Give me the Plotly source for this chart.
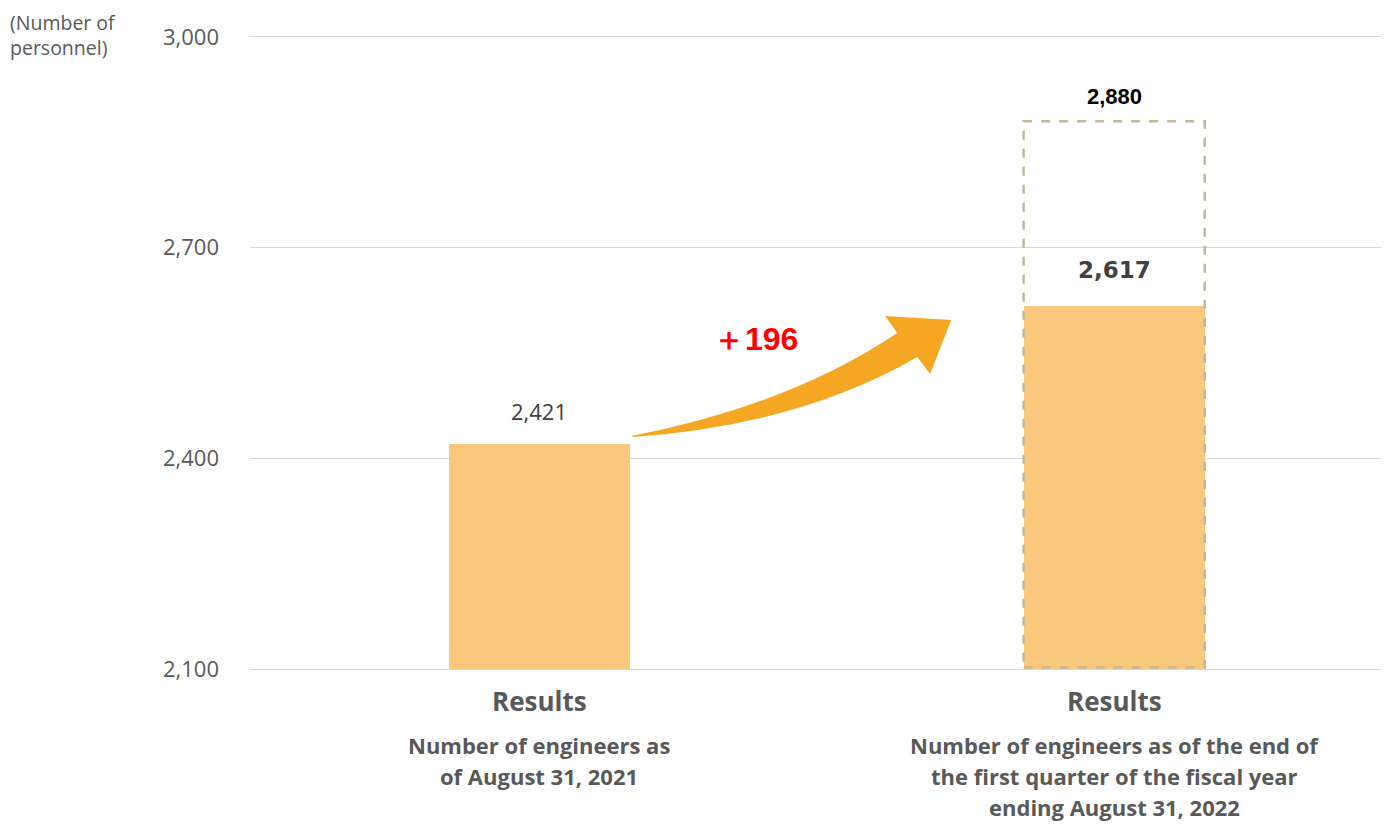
import plotly.graph_objects as go

# ---- data ----
categories = ["Results (Aug 31, 2021)", "Results (Q1 FY Aug 2022)"]
cat_titles = ["Results", "Results"]
cat_subtitles = [
    ["Number of engineers as", "of August 31, 2021"],
    ["Number of engineers as of the end of", "the first quarter of the fiscal year",
     "ending August 31, 2022"],
]
actual_values = [2421, 2617]
target_values = [None, 2880]
increase_label = "＋196"
y_ticks = [2100, 2400, 2700, 3000]
y_tick_labels = ["2,100", "2,400", "2,700", "3,000"]

x_pos = [0, 1]
bar_w = 0.315
bar_color = "#F9C87C"
grid_color = "#D9D9D9"
label_font = "Open Sans"

fig = go.Figure()

fig.add_trace(go.Bar(
    x=x_pos, y=[v - 2100 for v in actual_values], base=2100,
    width=bar_w, marker=dict(color=bar_color, line=dict(width=0)),
    hoverinfo="skip", showlegend=False,
))

# dashed target box (plan)
for xi, tv in zip(x_pos, target_values):
    if tv is None:
        continue
    fig.add_shape(type="rect", xref="x", yref="y",
                  x0=xi - bar_w / 2, x1=xi + bar_w / 2, y0=2102, y1=tv,
                  line=dict(color="#C4B69A", width=2.5, dash="dash"),
                  fillcolor="rgba(0,0,0,0)", layer="above")
    fig.add_annotation(x=xi, y=tv, yref="y", text="<b>" + f"{tv:,}" + "</b>",
                       showarrow=False, yshift=25,
                       font=dict(family="Liberation Sans, Arial", size=22, color="#000000"))

# value labels
fig.add_annotation(x=0, y=actual_values[0], text=f"{actual_values[0]:,}", showarrow=False,
                   yshift=33, font=dict(family=label_font, size=22, color="#404040"))
fig.add_annotation(x=1, y=actual_values[1], text="<b>" + f"{actual_values[1]:,}" + "</b>", showarrow=False,
                   yshift=36, font=dict(family="DejaVu Sans", size=23, color="#404040"))

# curved arrow (data coordinates)
def px(pxx):
    return (pxx - 539) / 575.0
def py(pyy):
    return 2100 + (669 - pyy) / 0.7022

pts_path = (
    f"M {px(631)},{py(436)} "
    f"Q {px(790)},{py(405)} {px(897)},{py(333)} "
    f"L {px(885)},{py(316)} "
    f"L {px(951)},{py(320)} "
    f"L {px(930)},{py(374)} "
    f"L {px(917)},{py(357)} "
    f"Q {px(800)},{py(425)} {px(633)},{py(437)} Z"
)
fig.add_shape(type="path", xref="x", yref="y", path=pts_path,
              fillcolor="#F5A623", line=dict(width=0), layer="above")

fig.add_annotation(x=px(755), y=py(339), text="<b>" + increase_label + "</b>", showarrow=False,
                   font=dict(family="Liberation Sans, Arial", size=32, color="#FF0000"))

# category labels
for xi, t, subs in zip(x_pos, cat_titles, cat_subtitles):
    fig.add_annotation(x=xi, y=0, yref="paper", yanchor="middle", yshift=-32,
                       text="<b>" + t + "</b>", showarrow=False,
                       font=dict(family=label_font, size=26, color="#595959"))
    for k, line in enumerate(subs):
        fig.add_annotation(x=xi, y=0, yref="paper", yanchor="middle", yshift=-76 - 31 * k,
                           text="<b>" + line + "</b>", showarrow=False,
                           font=dict(family=label_font, size=22, color="#595959"))

# y-axis title
fig.add_annotation(x=0, xref="paper", xanchor="left", xshift=-242, y=1, yref="paper",
                   yanchor="middle", yshift=2,
                   text="(Number of<br>personnel)", showarrow=False, align="left",
                   font=dict(family=label_font, size=19.5, color="#595959"))

fig.update_layout(
    width=1381, height=816,
    margin=dict(l=242, r=0, t=29, b=155),
    paper_bgcolor="white", plot_bgcolor="white",
    bargap=0,
    xaxis=dict(range=[-0.503, 1.478], showticklabels=False, showgrid=False,
               zeroline=False, showline=True, mirror=True, linecolor=grid_color,
               linewidth=1.3, ticks=""),
    yaxis=dict(range=[2100, 3000], tickvals=y_ticks, ticktext=y_tick_labels,
               showgrid=True, gridcolor=grid_color, gridwidth=1.3, zeroline=False,
               showline=False, ticks="", ticklabelstandoff=30,
               tickfont=dict(family=label_font, size=22, color="#595959")),
    showlegend=False,
)

fig.write_html("out.html")
